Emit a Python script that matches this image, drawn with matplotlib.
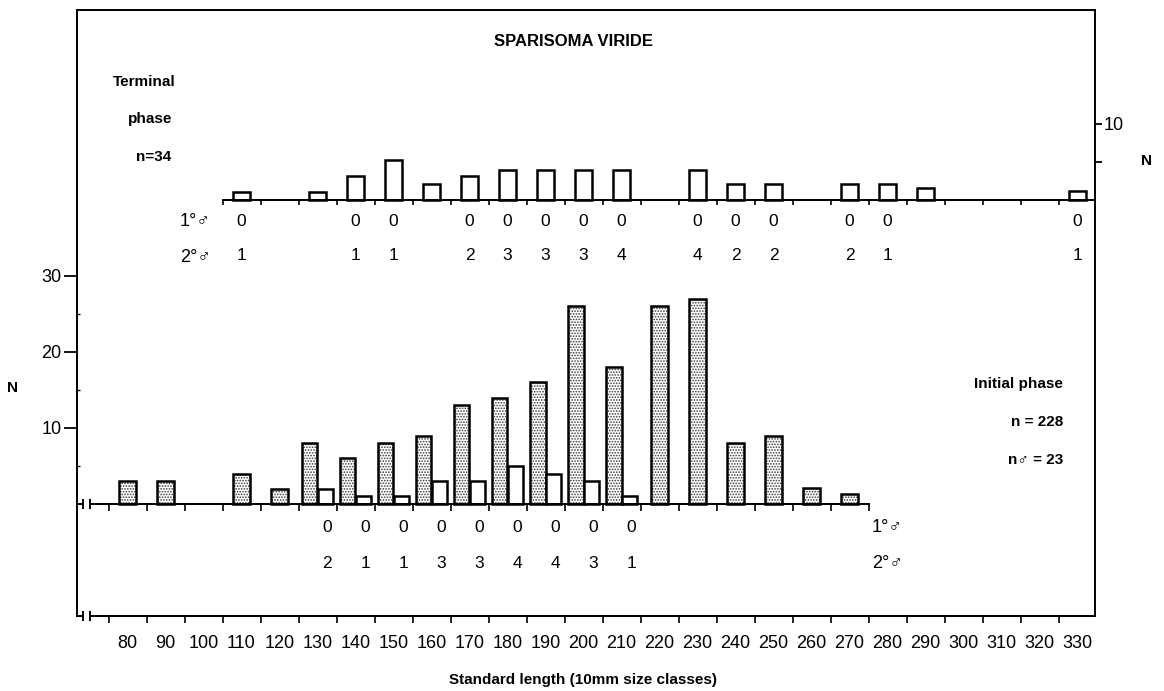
import matplotlib.pyplot as plt
import numpy as np

plt.rcParams['font.family'] = ['Liberation Sans', 'DejaVu Sans']
plt.rcParams['hatch.linewidth'] = 0.8

#*********************************************************************************
# data
# terminal phase (upper panel), N per 10 mm size class
tp_classes = [110, 130, 140, 150, 160, 170, 180, 190, 200, 210, 230, 240, 250, 270, 280, 290, 330]
tp_n = [1.0, 1.1, 3.2, 5.2, 2.1, 3.1, 4.0, 4.0, 4.0, 4.0, 4.0, 2.1, 2.1, 2.1, 2.1, 1.6, 1.2]
# primary / secondary males listed under the terminal phase bars
tp_sex_classes = [110, 140, 150, 170, 180, 190, 200, 210, 230, 240, 250, 270, 280, 330]
tp_primary = [0, 0, 0, 0, 0, 0, 0, 0, 0, 0, 0, 0, 0, 0]
tp_secondary = [1, 1, 1, 2, 3, 3, 3, 4, 4, 2, 2, 2, 1, 1]

# initial phase (lower panel)
ip_classes = [80, 90, 110, 120, 130, 140, 150, 160, 170, 180, 190, 200, 210, 220, 230, 240, 250, 260, 270]
ip_n = [3, 3, 4, 2, 8, 6, 8, 9, 13, 14, 16, 26, 18, 26, 27, 8, 9, 2.1, 1.3]
# males within the initial phase
ipm_classes = [130, 140, 150, 160, 170, 180, 190, 200, 210]
ipm_n = [2, 1, 1, 3, 3, 5, 4, 3, 1]
ipm_primary = [0, 0, 0, 0, 0, 0, 0, 0, 0]
ipm_secondary = [2, 1, 1, 3, 3, 4, 4, 3, 1]

size_labels = [str(v) for v in range(80, 340, 10)]

#*********************************************************************************
# layout (pixels of the 1164x691 page)
W, H = 1164, 691
px_x = 3.8            # pixels per mm
px_y = 7.6            # pixels per fish
x80 = 127.5           # pixel of class 80
box_l, box_r, box_t, box_b = 77, 1095, 10, 616
base_low, base_up = 504, 200

def vx(px):
   return 80 + (px - x80) / px_x

fig = plt.figure(figsize=(W/100., H/100.), dpi=100)
ax = fig.add_axes([box_l/W, 1-box_b/H, (box_r-box_l)/W, (box_b-box_t)/H])
ax.set_xlim(vx(box_l), vx(box_r))
ax.set_ylim(-(box_b-base_low)/px_y, (base_low-box_t)/px_y)
ax2 = ax.twinx()
ax2.set_ylim(-(box_b-base_up)/px_y, (base_up-box_t)/px_y)
for s in ax2.spines.values():
   s.set_visible(False)
for s in ax.spines.values():
   s.set_linewidth(1.4)

#*********************************************************************************
# lower panel: initial phase
has_m = [c in ipm_classes for c in ip_classes]
x_st = [c-4 if m else c-2.2 for c, m in zip(ip_classes, has_m)]
w_st = [4 if m else 4.4 for m in has_m]
ax.bar(x_st, ip_n, width=w_st, align='edge', color='white', edgecolor='#3a3a3a', hatch='......', linewidth=0)
ax.bar(x_st, ip_n, width=w_st, align='edge', fill=False, edgecolor='k', linewidth=1.8)
ax.bar(ipm_classes, ipm_n, width=4, align='edge', color='white', edgecolor='k', linewidth=1.8)

xa, xb = vx(83), vx(90)
brk = 5/px_y
ax.plot([ax.get_xlim()[0], xa], [0, 0], color='k', lw=1.4, clip_on=False)
ax.plot([xb, 275], [0, 0], color='k', lw=1.4)
ax.vlines([xa, xb], -brk, brk, color='k', lw=1.4)
ax.vlines(np.arange(75, 276, 10), -7/px_y, 0, color='k', lw=1.2)

yb = ax.get_ylim()[0]
ax.spines['bottom'].set_bounds(xb, ax.get_xlim()[1])
ax.plot([ax.get_xlim()[0], xa], [yb, yb], color='k', lw=1.4, clip_on=False)
ax.vlines([xa, xb], yb-brk, yb+brk, color='k', lw=1.4, clip_on=False)

for c, p, s in zip(ipm_classes, ipm_primary, ipm_secondary):
   ax.text(c+2.5, -(528-base_low)/px_y, str(p), ha='center', va='center', fontsize=12.5)
   ax.text(c+2.5, -(563-base_low)/px_y, str(s), ha='center', va='center', fontsize=12.5)
ax.text(vx(872), -(527-base_low)/px_y, '1°♂', ha='left', va='center', fontsize=13)
ax.text(vx(872), -(563-base_low)/px_y, '2°♂', ha='left', va='center', fontsize=13)

#*********************************************************************************
# upper panel: terminal phase
ax2.bar(tp_classes, tp_n, width=4.5, color='white', edgecolor='k', linewidth=1.8)
ax2.plot([105, ax.get_xlim()[1]], [0, 0], color='k', lw=1.4)
ax2.vlines(np.arange(105, 326, 10), -5/px_y, 0, color='k', lw=1.2)
for c, p, s in zip(tp_sex_classes, tp_primary, tp_secondary):
   ax2.text(c, -(221-base_up)/px_y, str(p), ha='center', va='center', fontsize=12.5)
   ax2.text(c, -(256-base_up)/px_y, str(s), ha='center', va='center', fontsize=12.5)
ax2.text(vx(180), -(221-base_up)/px_y, '1°♂', ha='left', va='center', fontsize=13)
ax2.text(vx(180), -(257-base_up)/px_y, '2°♂', ha='left', va='center', fontsize=13)

#*********************************************************************************
# axes ticks
ax.set_xticks(np.arange(80, 340, 10))
ax.set_xticklabels(size_labels, fontsize=13)
ax.set_xticks(np.arange(75, 330, 10), minor=True)
ax.tick_params(axis='x', which='major', length=0, pad=14)
ax.tick_params(axis='x', which='minor', length=5, width=1.2, direction='out')
ax.set_yticks([10, 20, 30])
ax.set_yticks([5, 15, 25], minor=True)
ax.tick_params(axis='y', which='major', length=9.5, width=1.3, pad=1.5, labelsize=13)
ax.tick_params(axis='y', which='minor', length=2, width=1.0, direction='in')
ax2.set_yticks([5, 10])
ax2.set_yticklabels(['', '10'])
ax2.tick_params(axis='y', length=5, width=1.3, pad=1.5, labelsize=13)

ax.set_xlabel('Standard length (10mm size classes)', fontsize=11, fontweight='bold')
ax.xaxis.set_label_coords((583-box_l)/(box_r-box_l), -(673-box_b)/(box_b-box_t))

#*********************************************************************************
# annotations
fig.text(574/W, 1-41/H, 'SPARISOMA VIRIDE', ha='center', va='center', fontsize=12, fontweight='bold')
fig.text(176/W, 1-82/H, 'Terminal', ha='right', va='center', fontsize=11, fontweight='bold')
fig.text(172/W, 1-119/H, 'phase', ha='right', va='center', fontsize=11, fontweight='bold')
fig.text(171/W, 1-157/H, 'n=34', ha='right', va='center', fontsize=11, fontweight='bold')
fig.text(1063/W, 1-384/H, 'Initial phase', ha='right', va='center', fontsize=11, fontweight='bold')
fig.text(1063/W, 1-422/H, 'n = 228', ha='right', va='center', fontsize=11, fontweight='bold')
fig.text(1063/W, 1-460/H, 'n♂ = 23', ha='right', va='center', fontsize=11, fontweight='bold')
fig.text(13/W, 1-388/H, 'N', ha='center', va='center', fontsize=11, fontweight='bold')
fig.text(1147/W, 1-161/H, 'N', ha='center', va='center', fontsize=11, fontweight='bold')

plt.savefig('out.png', dpi=100)
plt.close()
